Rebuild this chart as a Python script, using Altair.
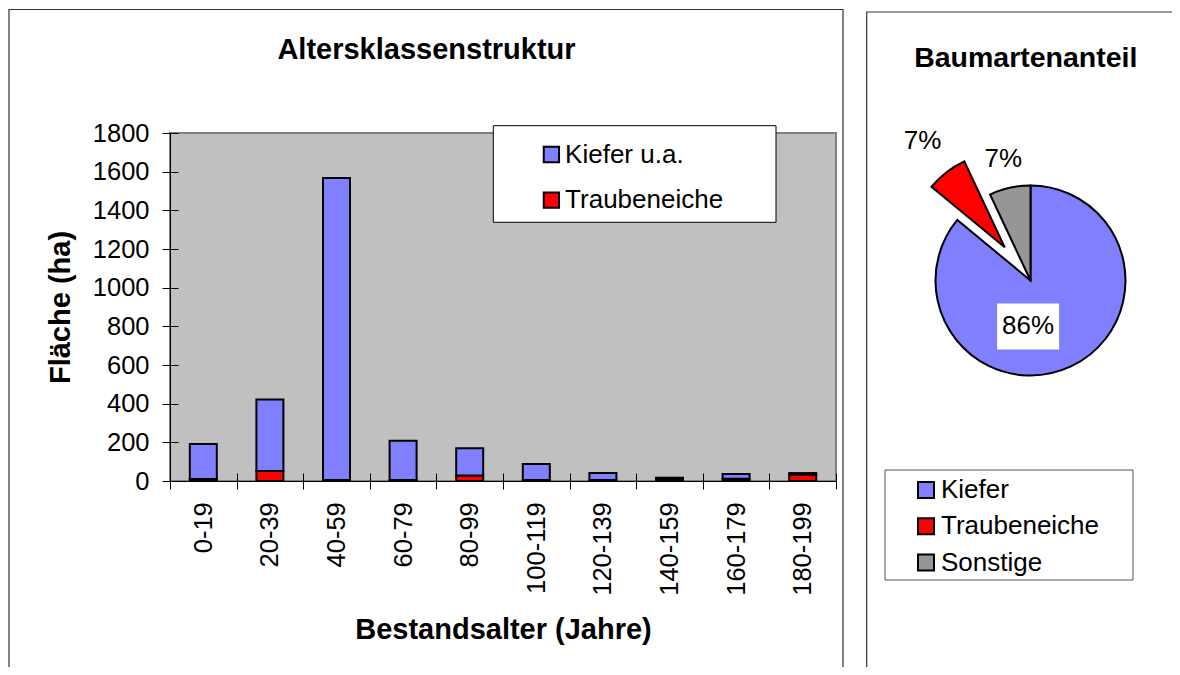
import altair as alt
import pandas as pd

# ---------------- data ----------------
AGE_CLASSES = ["0-19", "20-39", "40-59", "60-79", "80-99",
               "100-119", "120-139", "140-159", "160-179", "180-199"]
KIEFER = [182, 370, 1562, 203, 142, 83, 36, 10, 24, 8]
TRAUBENEICHE = [10, 52, 5, 5, 28, 5, 5, 7, 12, 33]
BAR_SERIES = ["Kiefer u.a.", "Traubeneiche"]
Y_TICKS = [0, 200, 400, 600, 800, 1000, 1200, 1400, 1600, 1800]

PIE_ARTEN = ["Kiefer", "Traubeneiche", "Sonstige"]
PIE_ANTEIL = [86, 7, 7]

# ---------------- style ----------------
FONT = "Liberation Sans, Arial, sans-serif"
BLUE, RED, GRAY = "#8080FF", "#FF0000", "#969696"
BAR_COLORS = [BLUE, RED]
PIE_COLORS = [BLUE, RED, GRAY]

PIE_CX, PIE_CY, PIE_R = 860.5, 147.5, 95
EXPLODE = {"Traubeneiche": 42}
LABEL_R = {"Kiefer": 46, "Traubeneiche": 134, "Sonstige": 125}
LABEL_ANGLE = {"Kiefer": 183}


def ternary(mapping, default):
    expr = str(default)
    for k, v in mapping.items():
        expr = f"(datum.Art === '{k}' ? {v} : {expr})"
    return expr


rows = []
for i, a in enumerate(AGE_CLASSES):
    rows.append({"Alter": a, "Art": "Traubeneiche", "flaeche": TRAUBENEICHE[i], "ord": 0})
    rows.append({"Alter": a, "Art": "Kiefer u.a.", "flaeche": KIEFER[i], "ord": 1})
bar_df = pd.DataFrame(rows)

pie_df = pd.DataFrame({"Art": PIE_ARTEN, "Anteil": PIE_ANTEIL,
                       "ord": list(range(len(PIE_ARTEN)))})

dummy = pd.DataFrame({"d": [0]})


def box(x1, x2, y1, y2, fill_opacity, stroke, width=1.0):
    return alt.Chart(dummy).mark_rect(fill="white", fillOpacity=fill_opacity,
                                      stroke=stroke, strokeWidth=width).encode(
        x=alt.value(x1), x2=alt.value(x2), y=alt.value(y1), y2=alt.value(y2))


# ---------------- panel frames / legend frames ----------------
frame_left = box(-161, 673, -123.5, 700, 0, "#333333", 1.2)
frame_right = box(696.7, 1100, -121, 700, 0, "#333333", 1.2)
bar_legend_box = box(323.3, 606, -7.3, 89.3, 1, "black", 1)
pie_legend_box = box(715, 963, 337, 447, 1, "#555555", 1)

title_left = alt.Chart(dummy).mark_text(
    text="Altersklassenstruktur", font=FONT, fontSize=29, fontWeight="bold",
    align="center", baseline="alphabetic", color="black").encode(
    x=alt.value(256.5), y=alt.value(-74))
title_right = alt.Chart(dummy).mark_text(
    text="Baumartenanteil", font=FONT, fontSize=28.5, fontWeight="bold",
    align="center", baseline="alphabetic", color="black").encode(
    x=alt.value(855.8), y=alt.value(-66.3))

# ---------------- bar chart ----------------
x_scale = alt.Scale(paddingInner=0, paddingOuter=0)
y_scale = alt.Scale(domain=[0, 1800], nice=False)

bar_legend = alt.Legend(
    title=None, orient="none", legendX=368.4, legendY=8.5, padding=0, rowPadding=19.7,
    symbolType="square", symbolSize=234, symbolStrokeColor="black", symbolStrokeWidth=2,
    labelFont=FONT, labelFontSize=26, labelColor="black", labelOffset=0.7, labelLimit=500)

bars = alt.Chart(bar_df).mark_bar(size=27, stroke="black", strokeWidth=2).encode(
    x=alt.X("Alter:N", sort=AGE_CLASSES, scale=x_scale,
            axis=alt.Axis(title="Bestandsalter (Jahre)", orient="bottom", labelAngle=-90,
                          tickBand="extent", tickSize=8, tickColor="black",
                          domainColor="black", domainWidth=1,
                          labelFont=FONT, labelFontSize=25.5, labelColor="black",
                          labelPadding=12.7, titleFont=FONT, titleFontSize=29,
                          titleFontWeight="bold", titleColor="black", titlePadding=20,
                          grid=False)),
    y=alt.Y("flaeche:Q", stack="zero", scale=y_scale,
            axis=alt.Axis(title="Fläche (ha)", orient="left", values=Y_TICKS, format="d",
                          tickSize=8, tickColor="black", domainColor="black",
                          domainWidth=1, labelFont=FONT, labelFontSize=25.5,
                          labelColor="black", labelPadding=13, titleFont=FONT,
                          titleFontSize=29, titleFontWeight="bold", titleColor="black",
                          titlePadding=17, grid=False)),
    color=alt.Color("Art:N", scale=alt.Scale(domain=BAR_SERIES, range=BAR_COLORS),
                    legend=bar_legend),
    order=alt.Order("ord:Q"),
)

# inward half of the crossing tick marks
ticks_in = alt.Chart(bar_df).mark_bar(opacity=0).encode(
    x=alt.X("Alter:N", sort=AGE_CLASSES, scale=x_scale,
            axis=alt.Axis(title=None, orient="bottom", offset=-8, tickSize=8,
                          tickColor="black", tickBand="extent", labels=False,
                          domain=False, grid=False)),
    y=alt.Y("flaeche:Q", stack="zero", scale=y_scale,
            axis=alt.Axis(title=None, orient="left", offset=-8, tickSize=8,
                          tickColor="black", values=Y_TICKS, labels=False,
                          domain=False, grid=False)),
)

# ---------------- pie chart ----------------
pie_base = (
    alt.Chart(pie_df)
    .transform_window(cum="sum(Anteil)", sort=[alt.SortField("ord")], frame=[None, 0])
    .transform_joinaggregate(total="sum(Anteil)")
    .transform_calculate(t0="(datum.cum - datum.Anteil) / datum.total * 2 * PI")
    .transform_calculate(t1="datum.cum / datum.total * 2 * PI")
    .transform_calculate(mid="(datum.t0 + datum.t1) / 2")
    .transform_calculate(ex=ternary(EXPLODE, 0))
    .transform_calculate(cx=f"{PIE_CX} + datum.ex * sin(datum.mid)")
    .transform_calculate(cy=f"{PIE_CY} - datum.ex * cos(datum.mid)")
    .transform_calculate(la=ternary({k: f"{v} * PI / 180" for k, v in LABEL_ANGLE.items()},
                                    "datum.mid"))
    .transform_calculate(lr=ternary(LABEL_R, 100))
    .transform_calculate(lx="datum.cx + datum.lr * sin(datum.la)")
    .transform_calculate(ly="datum.cy - datum.lr * cos(datum.la)")
    .transform_calculate(pct="format(datum.Anteil / datum.total, '.0%')")
)

pie_legend = alt.Legend(
    title=None, orient="none", legendX=743, legendY=344, padding=0, rowPadding=10.3,
    symbolType="square", symbolSize=256, symbolStrokeColor="black", symbolStrokeWidth=2,
    labelFont=FONT, labelFontSize=26, labelColor="black", labelOffset=2, labelLimit=500)

arcs = pie_base.mark_arc(radius=PIE_R, stroke="black", strokeWidth=2).encode(
    theta=alt.Theta("t0:Q", scale=None, stack=None),
    theta2=alt.Theta2("t1:Q"),
    x=alt.X("cx:Q", scale=None, axis=None),
    y=alt.Y("cy:Q", scale=None, axis=None),
    color=alt.Color("Art:N", scale=alt.Scale(domain=PIE_ARTEN, range=PIE_COLORS),
                    legend=pie_legend),
)

label_boxes = pie_base.transform_filter("datum.Art === 'Kiefer'").mark_point(
    shape="M-1,-0.742L1,-0.742L1,0.742L-1,0.742Z", size=62 * 62,
    filled=True, fill="white", opacity=1, strokeWidth=0).encode(
    x=alt.X("lx:Q", scale=None, axis=None),
    y=alt.Y("ly:Q", scale=None, axis=None),
)

labels = pie_base.mark_text(font=FONT, fontSize=26, color="black",
                            align="center", baseline="middle").encode(
    x=alt.X("lx:Q", scale=None, axis=None),
    y=alt.Y("ly:Q", scale=None, axis=None),
    text="pct:N",
)

chart = (
    alt.layer(frame_left, frame_right, bars, ticks_in, bar_legend_box, pie_legend_box,
              arcs, label_boxes, labels, title_left, title_right)
    .resolve_scale(color="independent")
    .resolve_axis(x="independent", y="independent")
    .properties(width=666, height=348,
                autosize=alt.AutoSizeParams(type="none"),
                padding={"left": 162, "top": 125, "right": 336, "bottom": 186})
    .configure_view(fill="#C0C0C0", stroke="#808080", strokeWidth=2)
)

chart.save("out.html", embed_options={"renderer": "svg", "actions": False})
